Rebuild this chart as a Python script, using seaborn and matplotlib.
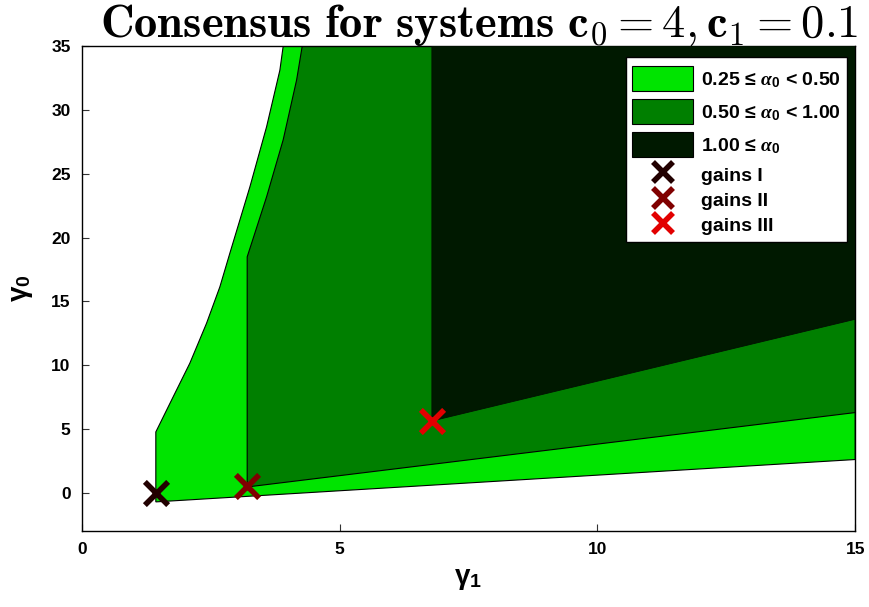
import numpy as np
import pandas as pd
import matplotlib
matplotlib.use("Agg")
import matplotlib.pyplot as plt
from matplotlib.patches import Patch, Rectangle
from matplotlib.legend_handler import HandlerPatch
import seaborn as sns

# ---- data ----
# outer boundary of region 0.25 <= alpha0 (light green)
light_curve_x = [1.436, 1.772, 2.096, 2.420, 2.678, 2.872, 3.260, 3.584, 3.842, 3.906]
light_curve_y = [4.77, 7.52, 10.16, 13.29, 16.14, 18.78, 23.97, 28.68, 33.12, 35.0]
light_bottom_x = [1.436, 15.0]
light_bottom_y = [-0.71, 2.61]

# boundary of region 0.50 <= alpha0 (medium green)
mid_curve_x = [3.208, 3.584, 3.906, 4.167, 4.275]
mid_curve_y = [18.49, 23.19, 27.66, 32.36, 35.0]
mid_bottom_x = [3.208, 15.0]
mid_bottom_y = [0.46, 6.29]

# boundary of region 1.00 <= alpha0 (dark green)
dark_bottom_x = [6.79, 15.0]
dark_bottom_y = [5.63, 13.6]

y_top = 35.0

gains_names = ["gains I", "gains II", "gains III"]
gains_g1 = [1.43, 3.21, 6.79]
gains_g0 = [0.0, 0.5, 5.6]

region_labels = [r"0.25$\,\leq\,\alpha_{\mathbf{0}}$ < 0.50",
                 r"0.50$\,\leq\,\alpha_{\mathbf{0}}$ < 1.00",
                 r"1.00$\,\leq\,\alpha_{\mathbf{0}}$"]
region_colors = ["#00e400", "#007f00", "#001900"]
gain_colors = ["#220000", "#800000", "#e20000"]

x_ticks = [0, 5, 10, 15]
y_ticks = [0, 5, 10, 15, 20, 25, 30, 35]

# ---- style ----
sns.set_theme(style="white")
fam = ["Liberation Sans", "DejaVu Sans"]
plt.rcParams["font.family"] = fam
plt.rcParams["font.weight"] = "bold"
plt.rcParams["text.color"] = "black"
plt.rcParams["axes.labelcolor"] = "black"
plt.rcParams["xtick.color"] = "black"
plt.rcParams["ytick.color"] = "black"
plt.rcParams["mathtext.fontset"] = "custom"
plt.rcParams["mathtext.rm"] = "Liberation Sans:bold"
plt.rcParams["mathtext.bf"] = "Liberation Sans:bold"
plt.rcParams["mathtext.it"] = "Liberation Serif:italic"


class TallPatchHandler(HandlerPatch):
    """Legend patch drawn in a taller box than the marker rows."""
    total = 20.5
    rect_h = 18.0

    def legend_artist(self, legend, orig_handle, fontsize, handlebox):
        extra = self.total - handlebox.height
        handlebox.height = self.total
        handlebox.ydescent += extra / 2.0
        y0 = -handlebox.ydescent + (self.total - self.rect_h) / 2.0
        p = Rectangle((-handlebox.xdescent, y0), handlebox.width, self.rect_h,
                      facecolor=orig_handle.get_facecolor(),
                      edgecolor=orig_handle.get_edgecolor(),
                      linewidth=orig_handle.get_linewidth())
        handlebox.add_artist(p)
        return p


fig = plt.figure(figsize=(8.7, 6.07), dpi=100)
ax = fig.add_axes([0.094, 0.125, 0.889, 0.799])

# polygons built from the boundary arrays
light_x = light_bottom_x + [light_bottom_x[-1]] + light_curve_x[::-1]
light_y = light_bottom_y + [y_top] + light_curve_y[::-1]
mid_x = mid_bottom_x + [mid_bottom_x[-1]] + mid_curve_x[::-1]
mid_y = mid_bottom_y + [y_top] + mid_curve_y[::-1]
dark_x = dark_bottom_x + [dark_bottom_x[-1], dark_bottom_x[0]]
dark_y = dark_bottom_y + [y_top, y_top]

ax.fill(light_x, light_y, facecolor=region_colors[0], edgecolor="black", linewidth=0.8, zorder=1)
ax.fill(mid_x, mid_y, facecolor=region_colors[1], edgecolor="black", linewidth=0.8, zorder=2)
ax.fill(dark_x, dark_y, facecolor=region_colors[2], edgecolor="#001000", linewidth=0.6, zorder=3)

df = pd.DataFrame({"g1": gains_g1, "g0": gains_g0, "name": gains_names})
for i in range(len(df)):
    sns.scatterplot(data=df.iloc[[i]], x="g1", y="g0", marker="x", s=280,
                    color=gain_colors[i], linewidth=4, ax=ax, zorder=5, legend=False)

ax.set_xlim(0, 15)
ax.set_ylim(-3, 35)
ax.set_xticks(x_ticks)
ax.set_yticks(y_ticks)
ax.tick_params(direction="in", length=5, width=0.8, labelsize=12.5, pad=8,
               top=False, right=False, left=True, bottom=True, color="#333333",
               labelcolor="black")
for lab in ax.get_xticklabels() + ax.get_yticklabels():
    lab.set_fontweight("bold")
for sp in ax.spines.values():
    sp.set_color("black")
    sp.set_linewidth(1.0)

ax.set_xlabel(r"γ$_{\mathbf{1}}$", fontsize=20, fontweight="bold", labelpad=6)
ax.set_ylabel(r"γ$_{\mathbf{0}}$", fontsize=20, fontweight="bold", labelpad=12)

ax.set_title(r"$\mathbf{Consensus\ for\ systems\ c_0 = 4, c_1 = 0.1}$",
             fontsize=33.5, math_fontfamily="cm", pad=7, x=0.514, color="black")

handles = [Patch(facecolor=c, edgecolor="black", linewidth=0.8) for c in region_colors]
handles += [plt.Line2D([], [], linestyle="none", marker="x", markersize=14,
                       markeredgewidth=4, color=c) for c in gain_colors]
labels = region_labels + gains_names
leg = ax.legend(handles, labels, loc="upper right", bbox_to_anchor=(0.9897, 0.977),
                borderaxespad=0, fontsize=14, frameon=True, fancybox=False, framealpha=1,
                edgecolor="black", handlelength=3.1, handleheight=1.2,
                labelspacing=0.25, borderpad=0.35, handletextpad=0.4,
                handler_map={Patch: TallPatchHandler()})
leg.get_frame().set_linewidth(1.0)
for t in leg.get_texts():
    t.set_fontweight("bold")
    t.set_color("black")

fig.savefig("out.png", dpi=100)
